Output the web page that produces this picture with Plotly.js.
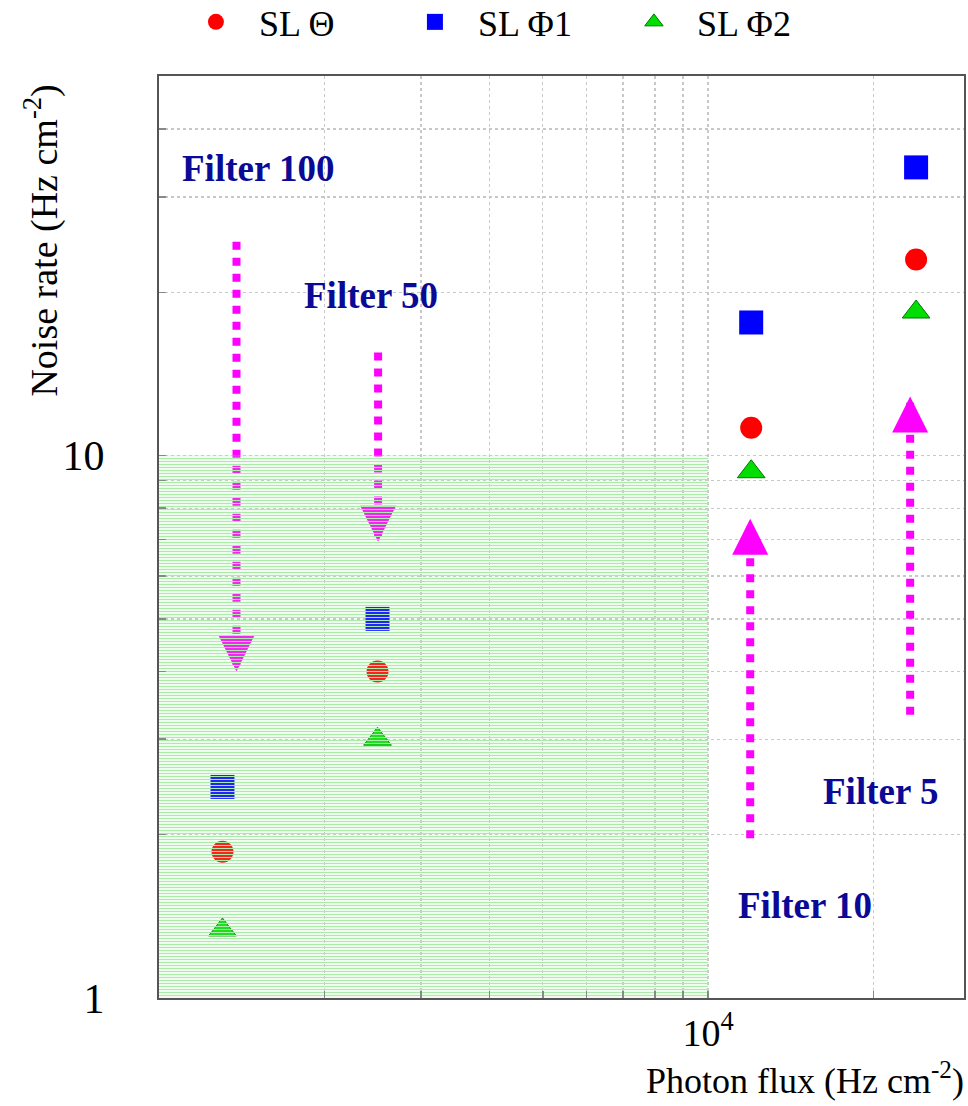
<!DOCTYPE html>
<html><head><meta charset="utf-8">
<script src="https://cdn.plot.ly/plotly-3.0.1.min.js"></script>
<style>html,body{margin:0;padding:0;background:#fff}#chart{width:968px;height:1106px}</style>
</head><body><div id="chart"></div>
<script>
// ---- data ----
const seriesNames = ['SL \u0398', 'SL \u03A61', 'SL \u03A62'];
const filterLabels = ['Filter 100', 'Filter 50', 'Filter 10', 'Filter 5'];
const photonFlux = [1305, 2500, 11980, 23920];
const noiseTheta = [1.86, 4.0, 11.26, 23.0];
const noisePhi1  = [2.45, 5.0, 17.6, 34.0];
const noisePhi2  = [1.335, 3.0, 9.34, 18.4];
// arrows (flux position, start noise, tip noise)
const arrowFlux = [1384, 2506, 11930, 23330];
const arrowFrom = [24.8, 15.5, 1.97, 3.33];
const arrowTo   = [4.0, 6.94, 7.65, 12.85];
// shaded region
const shadeFlux  = [1000, 10000];
const shadeNoise = [1, 10];
// ticks
const xTickVals = [10000];
const xTickText = ['10<sup>4</sup>'];
const xMinorVals = [2000, 3000, 4000, 5000, 6000, 7000, 8000, 9000, 20000];
const yTickVals = [1, 10];
const yTickText = ['1', '10'];
const yMinorVals = [2, 3, 4, 5, 6, 7, 8, 9, 20, 30, 40];

// ---- styles ----
const FONT = 'Liberation Serif';
const MAG = '#ff00ff';
const NAVY = '#0a0a96';

const traces = [];
// arrow shafts
const sx = [], sy = [];
arrowFlux.forEach((f, i) => { sx.push(f, f, null); sy.push(arrowFrom[i], arrowTo[i], null); });
traces.push({x: sx, y: sy, mode: 'lines', showlegend: false, hoverinfo: 'skip',
  line: {color: MAG, width: 8, dash: 'dot'}});

const series = [
  {name: seriesNames[0], y: noiseTheta, symbol: 'circle', color: '#ff0000', size: 22},
  {name: seriesNames[1], y: noisePhi1, symbol: 'square', color: '#0000ff', size: 24},
  {name: seriesNames[2], y: noisePhi2, symbol: 'triangle-up', color: '#00dd00', size: 24},
];
series.forEach(s => traces.push({
  x: photonFlux, y: s.y, name: s.name, mode: 'markers', type: 'scatter',
  marker: {symbol: s.symbol, color: s.color, size: s.size,
    line: {width: s.symbol === 'triangle-up' ? 1 : 0, color: '#007700'}}
}));

// hatched region (drawn on top)
traces.push({
  x: [shadeFlux[0], shadeFlux[1], shadeFlux[1], shadeFlux[0], shadeFlux[0]],
  y: [shadeNoise[0], shadeNoise[0], shadeNoise[1], shadeNoise[1], shadeNoise[0]],
  mode: 'lines', fill: 'toself', showlegend: false, hoverinfo: 'skip',
  line: {width: 0, color: 'rgba(0,0,0,0)'},
  fillcolor: 'rgba(0,0,0,0)',
  fillpattern: {shape: '-', size: 3, solidity: 0.45, fgcolor: '#a8eca8', bgcolor: 'rgba(0,0,0,0)', fillmode: 'replace'}
});

// arrow heads as pixel-sized shapes anchored at tips
const shapes = arrowFlux.map((f, i) => {
  const up = arrowTo[i] > arrowFrom[i];
  return {type: 'path', layer: 'between', xref: 'x', yref: 'y',
    xsizemode: 'pixel', ysizemode: 'pixel', xanchor: f, yanchor: arrowTo[i],
    path: up ? 'M-18,-36L18,-36L0,0Z' : 'M-18,36L18,36L0,0Z',
    fillcolor: MAG, line: {width: 0}};
});

const labelPos = [[0.123, 0.900], [0.263, 0.762], [0.8025, 0.1008], [0.8957, 0.2243]];
const annotations = filterLabels.map((t, i) => ({
  text: '<b>' + t + '</b>', xref: 'paper', yref: 'paper', x: labelPos[i][0], y: labelPos[i][1],
  xanchor: 'center', yanchor: 'middle', showarrow: false,
  font: {family: FONT, size: 37, color: NAVY}
}));
annotations.push({text: 'Noise rate (Hz cm<sup>-2</sup>)', textangle: -90, xref: 'paper', yref: 'paper',
  x: -0.146, y: 0.822, xanchor: 'center', yanchor: 'middle', showarrow: false,
  font: {family: FONT, size: 38, color: '#000'}});
annotations.push({text: 'Photon flux (Hz cm<sup>-2</sup>)', xref: 'paper', yref: 'paper',
  x: 1.002, y: -0.0868, xanchor: 'right', yanchor: 'middle', showarrow: false,
  font: {family: FONT, size: 36, color: '#000'}});

const gridColor = '#c8c8c8';
const axisCommon = {
  type: 'log', showgrid: true, gridcolor: gridColor, griddash: 'dot', gridwidth: 1.3,
  ticks: 'inside', ticklen: 7, tickcolor: '#888', tickwidth: 1.5,
  showline: true, mirror: true, linecolor: '#555', linewidth: 2, zeroline: false,
};
const layout = {
  width: 968, height: 1106,
  margin: {l: 159, r: 4, t: 76, b: 108, autoexpand: false},
  paper_bgcolor: '#fff', plot_bgcolor: '#fff',
  font: {family: FONT, color: '#000'},
  showlegend: true,
  legend: {orientation: 'h', x: 0.0173, xanchor: 'left', y: 1.0586, yanchor: 'middle',
    font: {family: FONT, size: 36, color: '#000'}, itemwidth: 76, entrywidth: 128, entrywidthmode: 'pixels'},
  xaxis: Object.assign({}, axisCommon, {range: [3, 4.466], tickmode: 'array', tickvals: xTickVals, ticktext: xTickText,
    minor: {tickmode: 'array', tickvals: xMinorVals, showgrid: true, gridcolor: gridColor, griddash: 'dot', gridwidth: 1.3,
      ticks: 'inside', ticklen: 7, tickcolor: '#888'},
    tickfont: {family: FONT, size: 38, color: '#000'}, ticklabelstandoff: 0}),
  yaxis: Object.assign({}, axisCommon, {range: [0, 1.70], tickmode: 'array', tickvals: yTickVals, ticktext: yTickText,
    minor: {tickmode: 'array', tickvals: yMinorVals, showgrid: true, gridcolor: gridColor, griddash: 'dot', gridwidth: 1.3,
      ticks: 'inside', ticklen: 7, tickcolor: '#888'},
    tickfont: {family: FONT, size: 42, color: '#000'}, ticklabelstandoff: 44}),
  shapes: shapes,
  annotations: annotations
};
Plotly.newPlot('chart', traces, layout, {displayModeBar: false, staticPlot: true});
</script>
</body></html>
